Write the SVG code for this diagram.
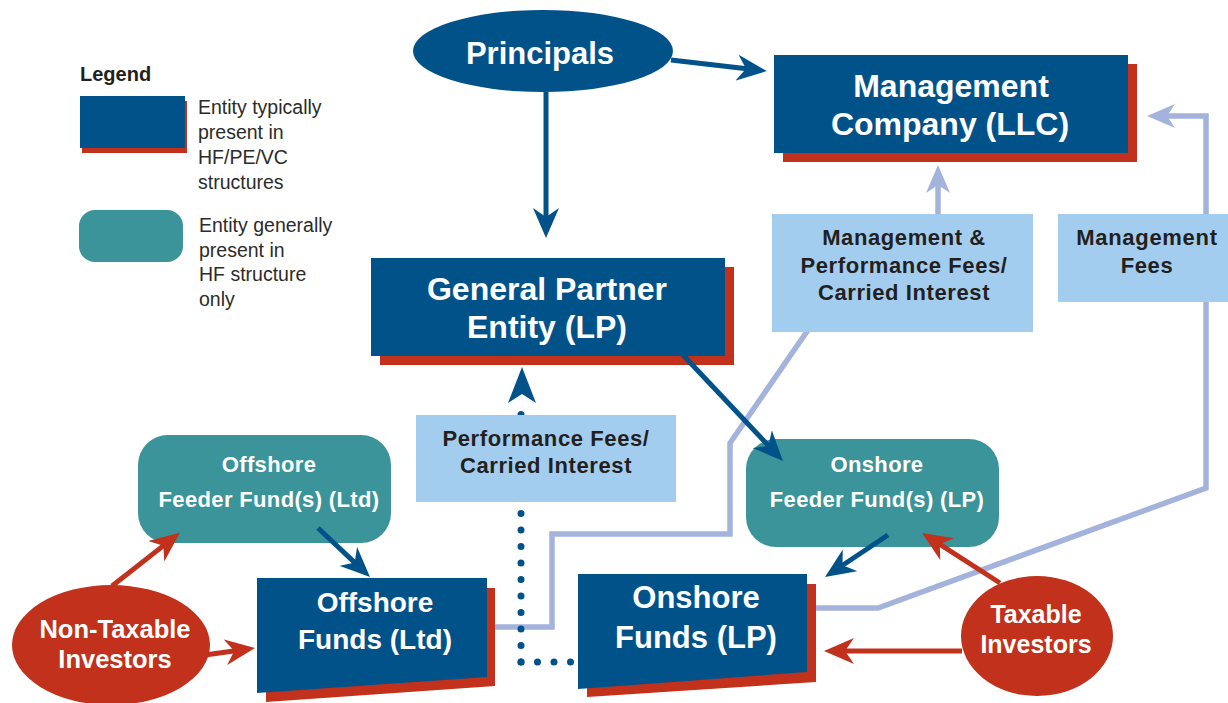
<svg xmlns="http://www.w3.org/2000/svg" width="1228" height="703" viewBox="0 0 1228 703">
<style>
.blue{fill:#02528a}
.red{fill:#c1311b}
.teal{fill:#3a9499}
.lbl{fill:#a3cdee}
.big{font-family:"Liberation Sans",Arial,sans-serif;font-weight:bold;fill:#fff;text-anchor:middle}
.mid{font-family:"Liberation Sans",Arial,sans-serif;font-weight:bold;fill:#fff;text-anchor:middle;font-size:22px;letter-spacing:0.35px}
.lt{font-family:"Liberation Sans",Arial,sans-serif;font-weight:bold;fill:#231f20;text-anchor:middle;font-size:22px;letter-spacing:0.6px}
.leg{font-family:"Liberation Sans",Arial,sans-serif;fill:#2b2b2b;font-size:19.5px}
.ab{fill:none;stroke:#02528a;stroke-width:5;marker-end:url(#mb)}
.ar{fill:none;stroke:#c1311b;stroke-width:5;marker-end:url(#mr)}
.lav{fill:none;stroke:#a3b3dc;stroke-width:5.5;stroke-linejoin:miter}
</style>
<defs>
<marker id="mb" markerUnits="userSpaceOnUse" markerWidth="30" markerHeight="26" viewBox="0 0 30 26" refX="12" refY="13" orient="auto"><path d="M0,0 L30,13 L0,26 L9,13 z" fill="#02528a"/></marker>
<marker id="mr" markerUnits="userSpaceOnUse" markerWidth="30" markerHeight="26" viewBox="0 0 30 26" refX="12" refY="13" orient="auto"><path d="M0,0 L30,13 L0,26 L9,13 z" fill="#c1311b"/></marker>
<marker id="ml" markerUnits="userSpaceOnUse" markerWidth="28" markerHeight="24" viewBox="0 0 28 24" refX="10" refY="12" orient="auto"><path d="M0,0 L28,12 L0,24 L8,12 z" fill="#a3b3dc"/></marker>
</defs>
<rect width="1228" height="703" fill="#fff"/>

<g id="legend">
<text x="80" y="81" font-family="Liberation Sans, Arial, sans-serif" font-weight="bold" font-size="20" fill="#231f20">Legend</text>
<rect class="red" x="82" y="101" width="105" height="52"/>
<rect class="blue" x="80" y="96" width="105" height="52"/>
<text class="leg" x="198" y="114">Entity typically</text>
<text class="leg" x="198" y="139">present in</text>
<text class="leg" x="198" y="164">HF/PE/VC</text>
<text class="leg" x="198" y="189">structures</text>
<rect class="teal" x="79" y="210" width="104" height="52" rx="16"/>
<text class="leg" x="199" y="232">Entity generally</text>
<text class="leg" x="199" y="257">present in</text>
<text class="leg" x="199" y="281">HF structure</text>
<text class="leg" x="199" y="306">only</text>
</g>

<g id="connectors">
<polyline class="lav" points="495,627 552,627 552,534 730,534 730,443 808,330"/>
<line class="lav" x1="938" y1="216" x2="938" y2="183" marker-end="url(#ml)"/>
<polyline class="lav" points="816,608 878,608 1206,488 1206,116 1165,116" marker-end="url(#ml)"/>
<g fill="none" stroke="#02528a" stroke-width="7" stroke-linecap="round" stroke-dasharray="0 16.5">
<path d="M521,662 L521,398"/>
<path d="M521,662 L571,662"/>
</g>
<path d="M522,367 L536,403 L522,394 L508,403 z" fill="#02528a"/>
<g id="label-perf-carried">
<rect class="lbl" x="416" y="415" width="260" height="87"/>
<text class="lt" x="546" y="446">Performance Fees/</text>
<text class="lt" x="546" y="473">Carried Interest</text>
</g>
<g id="label-mgmt-perf">
<rect class="lbl" x="772" y="214" width="261" height="118"/>
<text class="lt" x="904" y="245">Management &amp;</text>
<text class="lt" x="904" y="273">Performance Fees/</text>
<text class="lt" x="904" y="300">Carried Interest</text>
</g>
<g id="label-mgmt-fees">
<rect class="lbl" x="1058" y="214" width="170" height="88"/>
<text class="lt" x="1147" y="245" style="letter-spacing:0.7px">Management</text>
<text class="lt" x="1147" y="273">Fees</text>
</g>
</g>

<g id="principals">
<ellipse class="blue" cx="543" cy="51" rx="130" ry="41"/>
<text class="big" x="540" y="64" font-size="31">Principals</text>
</g>

<g id="management-company">
<rect class="red" x="783" y="64" width="354" height="98"/>
<rect class="blue" x="774" y="55" width="354" height="98"/>
<text class="big" x="951" y="97" font-size="32">Management</text>
<text class="big" x="950" y="135" font-size="32">Company (LLC)</text>
</g>

<g id="general-partner">
<rect class="red" x="380" y="267" width="354" height="98"/>
<rect class="blue" x="371" y="258" width="354" height="98"/>
<text class="big" x="547" y="300" font-size="32">General Partner</text>
<text class="big" x="547" y="338" font-size="32">Entity (LP)</text>
</g>

<g id="offshore-feeder">
<rect class="teal" x="138" y="435" width="253" height="108" rx="30"/>
<text class="mid" x="269" y="472">Offshore</text>
<text class="mid" x="269" y="507">Feeder Fund(s) (Ltd)</text>
</g>

<g id="onshore-feeder">
<rect class="teal" x="746" y="439" width="253" height="108" rx="30"/>
<text class="mid" x="877" y="472">Onshore</text>
<text class="mid" x="877" y="507">Feeder Fund(s) (LP)</text>
</g>

<g id="offshore-funds">
<polygon class="red" points="266,588 495,588 495,686 266,702"/>
<polygon class="blue" points="257,578 487,578 487,677 257,693"/>
<text class="big" x="375" y="612" font-size="28">Offshore</text>
<text class="big" x="375" y="649" font-size="28">Funds (Ltd)</text>
</g>

<g id="onshore-funds">
<polygon class="red" points="587,584 816,584 816,682 587,697"/>
<polygon class="blue" points="578,574 807,574 807,672 578,689"/>
<text class="big" x="696" y="608" font-size="31">Onshore</text>
<text class="big" x="696" y="648" font-size="31">Funds (LP)</text>
</g>

<g id="non-taxable-investors">
<ellipse class="red" cx="111" cy="645" rx="99" ry="60"/>
<text class="big" x="115" y="638" font-size="25.5">Non-Taxable</text>
<text class="big" x="115" y="668" font-size="25.5">Investors</text>
</g>

<g id="taxable-investors">
<ellipse class="red" cx="1037" cy="636" rx="76" ry="60"/>
<text class="big" x="1036" y="623" font-size="25">Taxable</text>
<text class="big" x="1036" y="653" font-size="25">Investors</text>
</g>

<g id="connectors-arrows">
<line class="ab" x1="671" y1="60" x2="749" y2="69"/>
<line class="ab" x1="546" y1="92" x2="546" y2="220"/>
<line class="ab" x1="683" y1="355" x2="770.6" y2="447.9"/>
<line class="ab" x1="318" y1="528" x2="356.9" y2="564.6"/>
<line class="ab" x1="888" y1="535" x2="840" y2="567"/>
<line class="ar" x1="112" y1="586" x2="165.7" y2="543.9"/>
<line class="ar" x1="205" y1="655" x2="237.2" y2="650.5"/>
<line class="ar" x1="1000" y1="583" x2="937.2" y2="542.7"/>
<line class="ar" x1="962" y1="651" x2="842" y2="651"/>
</g>
</svg>
